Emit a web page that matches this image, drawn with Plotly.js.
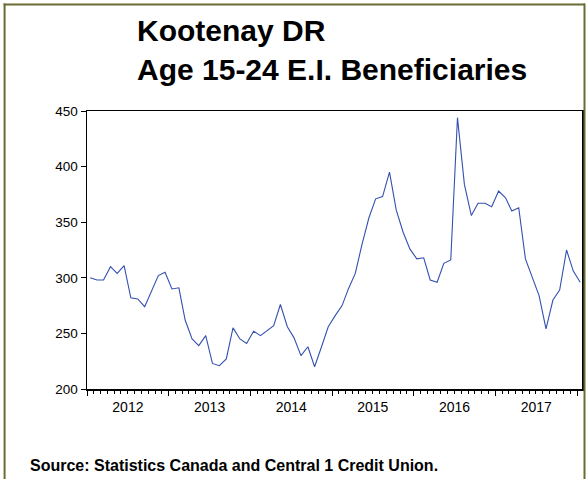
<!DOCTYPE html>
<html>
<head>
<meta charset="utf-8">
<script src="https://cdn.plot.ly/plotly-3.0.1.min.js"></script>
<style>
  html, body { margin: 0; padding: 0; background: #ffffff; }
  #chart { width: 587px; height: 479px; }
</style>
</head>
<body>
<div id="chart"></div>
<script>
// ---- Data (monthly, Jan 2012 - Jan 2018) ----
const startYear = 2012;
const startMonth = 1;
const beneficiaries = [
  300, 298, 298, 310, 304, 311, 282, 281, 274, 287, 302, 305,
  290, 291, 262, 245, 239, 248, 223, 221, 227, 255, 245, 241,
  252, 248, 252, 257, 276, 256, 246, 230, 238, 220, 238, 256,
  266, 275, 290, 304, 330, 354, 371, 373, 395, 361, 341, 326,
  317, 318, 298, 296, 313, 316, 444, 384, 356, 367, 367, 364,
  378, 372, 360, 363, 317, 301, 284, 254, 280, 289, 325, 306,
  296
];
const yearTicks = ["2012", "2013", "2014", "2015", "2016", "2017"];
const titleLine1 = "Kootenay DR";
const titleLine2 = "Age 15-24 E.I. Beneficiaries";
const sourceText = "Source: Statistics Canada and Central 1 Credit Union.";

// month dates (mid-month)
const months = beneficiaries.map((_, i) => {
  const m0 = startMonth - 1 + i;
  const y = startYear + Math.floor(m0 / 12);
  const m = (m0 % 12) + 1;
  return y + "-" + String(m).padStart(2, "0") + "-15";
});

// ---- Layout geometry (pixels) ----
const W = 587, H = 479;
const L = 87, R = 4.5, T = 111, B = 90;
const plotW = W - L - R, plotH = H - T - B;
const px = x => (x - L) / plotW;
const py = y => (H - B - y) / plotH;

const font = "Liberation Sans, Arial, Helvetica, sans-serif";
const frameColor = "#6b6b34";

const trace = {
  x: months,
  y: beneficiaries,
  type: "scatter",
  mode: "lines",
  line: { color: "#3450b0", width: 1.1 },
  hoverinfo: "x+y"
};

const layout = {
  width: W,
  height: H,
  margin: { l: L, r: R, t: T, b: B, pad: 0 },
  paper_bgcolor: "#ffffff",
  plot_bgcolor: "#ffffff",
  showlegend: false,
  font: { family: font, size: 13.5, color: "#000000" },
  xaxis: {
    type: "date",
    range: ["2012-01-01", "2018-01-23"],
    tick0: "2012-01-01",
    dtick: "M12",
    tickformat: "%Y",
    ticklabelmode: "period",
    ticks: "outside",
    ticklen: 5,
    tickwidth: 1,
    tickcolor: "#000000",
    minor: { dtick: "M1", ticks: "outside", ticklen: 3, tickwidth: 1, tickcolor: "#000000", showgrid: false },
    showgrid: false,
    zeroline: false,
    showline: true,
    linecolor: "#000000",
    linewidth: 1.5,
    mirror: true,
    tickfont: { family: font, size: 14, color: "#000000" },
    fixedrange: true
  },
  yaxis: {
    range: [200, 450],
    tick0: 200,
    dtick: 50,
    ticks: "outside",
    ticklen: 5,
    tickwidth: 1,
    tickcolor: "#000000",
    showgrid: false,
    zeroline: false,
    showline: true,
    linecolor: "#000000",
    linewidth: 1.5,
    mirror: true,
    tickfont: { family: font, size: 13.5, color: "#000000" },
    fixedrange: true
  },
  shapes: [
    { type: "line", xref: "paper", yref: "paper", x0: px(4.5), x1: px(4.5), y0: py(3.5), y1: py(H + 5), line: { color: frameColor, width: 2 } },
    { type: "line", xref: "paper", yref: "paper", x0: px(3.5), x1: px(585.5), y0: py(4.5), y1: py(4.5), line: { color: frameColor, width: 2 } },
    { type: "line", xref: "paper", yref: "paper", x0: px(585), x1: px(585), y0: py(3.5), y1: py(H + 5), line: { color: frameColor, width: 2 } }
  ],
  annotations: [
    { text: "<b>" + titleLine1 + "</b>", xref: "paper", yref: "paper", x: px(135), y: py(30), xanchor: "left", yanchor: "middle", showarrow: false, font: { family: font, size: 30, color: "#000000" } },
    { text: "<b>" + titleLine2 + "</b>", xref: "paper", yref: "paper", x: px(135), y: py(69), xanchor: "left", yanchor: "middle", showarrow: false, font: { family: font, size: 30, color: "#000000" } },
    { text: "<b>" + sourceText + "</b>", xref: "paper", yref: "paper", x: px(28), y: py(465), xanchor: "left", yanchor: "middle", showarrow: false, font: { family: font, size: 16, color: "#000000" } }
  ]
};

Plotly.newPlot("chart", [trace], layout, { displayModeBar: false, staticPlot: true });
</script>
</body>
</html>
